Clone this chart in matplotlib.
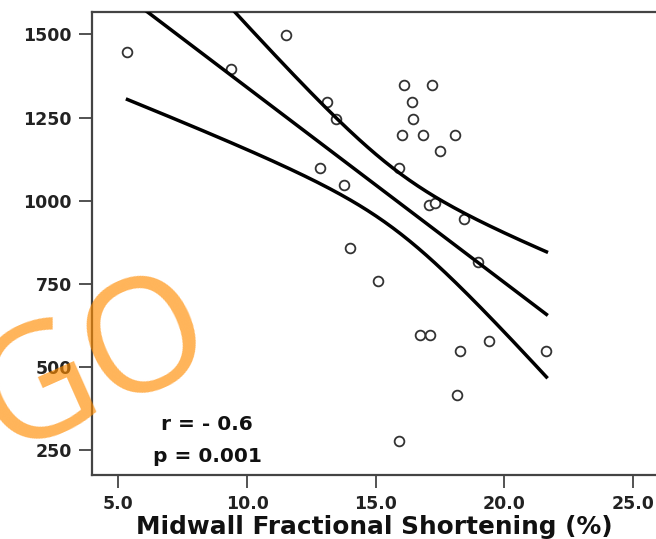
import numpy as np
import matplotlib.pyplot as plt

# Midwall fractional shortening (%) vs y value
fs = [5.35, 9.36, 11.5, 13.09, 13.45, 16.10, 17.21, 16.42, 16.45, 16.01,
      16.86, 18.09, 17.52, 12.83, 15.91, 13.76, 17.08, 17.31, 18.43, 14.0,
      18.99, 15.10, 16.72, 17.13, 18.27, 19.39, 21.64, 18.18, 15.91]
yv = [1446, 1397, 1498, 1298, 1245, 1347, 1347, 1297, 1246, 1197,
      1197, 1197, 1148, 1098, 1098, 1047, 986, 994, 946, 857,
      817, 759, 597, 597, 549, 579, 549, 416, 278]

xticks = [5, 10, 15, 20, 25]
yticks = [250, 500, 750, 1000, 1250, 1500]
r_text = "r = - 0.6"
p_text = "p = 0.001"

t_crit = 1.703  # band looks like a 90% band (df = 27)

x = np.array(fs)
y = np.array(yv)
n = len(x)
b, a = np.polyfit(x, y, 1)
xs = np.linspace(x.min(), x.max(), 200)
yfit = a + b * xs
s = np.sqrt(np.sum((y - (a + b * x)) ** 2) / (n - 2))
sxx = np.sum((x - x.mean()) ** 2)
half = t_crit * s * np.sqrt(1.0 / n + (xs - x.mean()) ** 2 / sxx)

fig = plt.figure(figsize=(6.56, 5.39), dpi=100)
ax = fig.add_axes([0.1402, 0.1187, 0.8598, 0.8590])

ax.plot(x, y, 'o', ms=7, mfc='white', mec='#333333', mew=1.3, zorder=2)
ax.plot(xs, yfit, color='black', lw=2.5, zorder=3)
ax.plot(xs, yfit + half, color='black', lw=2.5, zorder=3)
ax.plot(xs, yfit - half, color='black', lw=2.5, zorder=3)

ax.set_xlim(3.97, 25.9)
ax.set_ylim(176, 1567)
ax.set_xticks(xticks)
ax.set_xticklabels(["%.1f" % v for v in xticks])
ax.set_yticks(yticks)
ax.set_yticklabels([str(v) for v in yticks])

for side in ['left', 'bottom', 'top']:
    ax.spines[side].set_color('#444444')
    ax.spines[side].set_linewidth(1.6)
ax.spines['right'].set_visible(False)

ax.tick_params(length=9.5, width=1.3, color='#444444', pad=5,
               labelsize=12.5, labelcolor='#222222')
for lab in ax.get_xticklabels() + ax.get_yticklabels():
    lab.set_fontweight('bold')

ax.set_xlabel("Midwall Fractional Shortening (%)", fontsize=17.8,
              fontweight='bold', color='#111111', labelpad=1)

ax.text(0.204, 0.0972, r_text, transform=ax.transAxes, ha='center',
        va='baseline', fontsize=14.5, fontweight='bold', color='#111111')
ax.text(0.204, 0.028, p_text, transform=ax.transAxes, ha='center',
        va='baseline', fontsize=14.5, fontweight='bold', color='#111111')

# orange watermark over the lower left corner
fig.text(0.145, 0.318, "GO", fontsize=114, color='#ff8c00', alpha=0.65,
         family=['Open Sans', 'DejaVu Sans'], fontweight='normal',
         rotation=24, ha='center', va='center', rotation_mode='anchor',
         zorder=10)

fig.savefig("out.png", dpi=100)
